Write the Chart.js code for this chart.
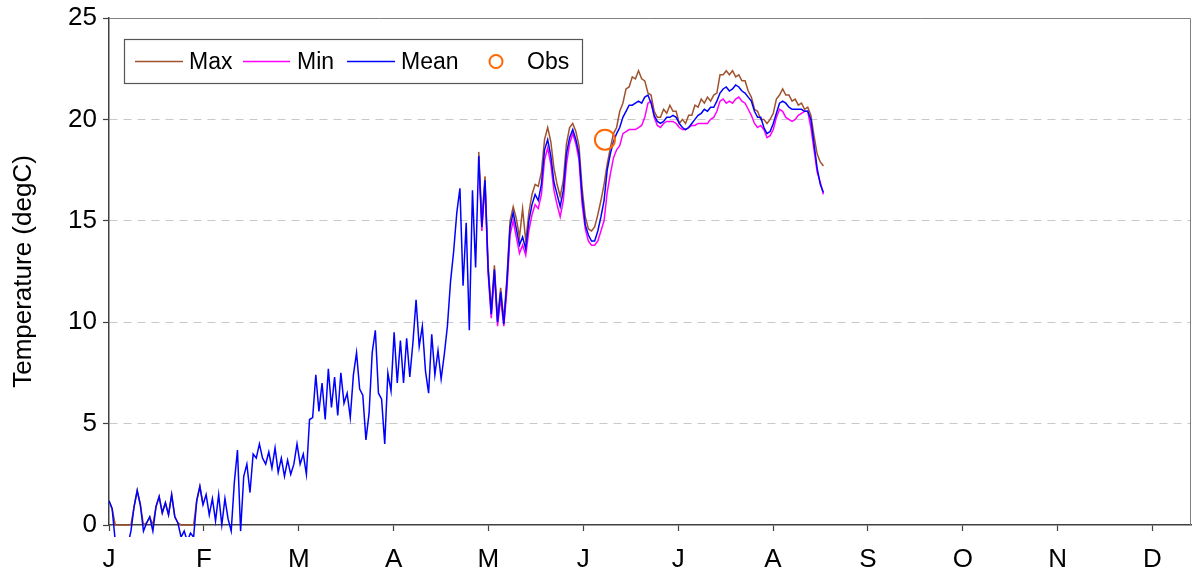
<!DOCTYPE html>
<html>
<head>
<meta charset="utf-8">
<script src="https://cdn.jsdelivr.net/npm/chart.js@4/dist/chart.umd.min.js"></script>
<style>
  html, body { margin: 0; padding: 0; background: #fff; }
  #wrap { width: 1196px; height: 584px; }
</style>
</head>
<body>
<div id="wrap"><canvas id="grafico" width="1196" height="584"></canvas></div>
<script>
// x axis: day of year, tick every 32 days, labelled with the month letter
const tickDays = [0, 32, 64, 96, 128, 160, 192, 224, 256, 288, 320, 352];
const tickLabels = ['J', 'F', 'M', 'A', 'M', 'J', 'J', 'A', 'S', 'O', 'N', 'D'];

// readings are evenly spaced, one every ~1.057 days, starting on day 0
const readStep = 1.057;

// Mean temperature (degC)
const meanVals = [
  1.2, 0.8, -0.8, -1.0, -1.0, -1.0, -1.0, -0.3, 0.9, 1.7,
  1.0, -0.3, 0.1, 0.4, -0.3, 0.9, 1.4, 0.6, 1.1, 0.5,
  1.5, 0.4, 0.1, -0.6, -0.3, -0.8, -0.4, -0.6, 1.2, 1.9,
  1.0, 1.5, 0.5, 1.3, 0.2, 1.5, 0.0, 1.3, 0.3, -0.3,
  2.1, 3.7, -0.3, 2.4, 3.0, 1.6, 3.5, 3.3, 4.0, 3.3,
  3.0, 3.6, 2.8, 3.8, 2.6, 3.3, 2.4, 3.2, 2.5, 3.0,
  4.0, 3.0, 3.5, 2.5, 5.2, 5.3, 7.4, 5.6, 7.0, 5.2,
  7.7, 5.8, 7.3, 5.4, 7.5, 6.0, 6.5, 5.3, 7.4, 8.5,
  6.7, 6.4, 4.2, 5.5, 8.5, 9.6, 6.5, 6.2, 4.0, 7.5,
  6.6, 9.5, 7.0, 9.1, 7.0, 9.2, 7.3, 9.0, 11.1, 8.8,
  9.8, 7.6, 6.5, 9.4, 7.4, 8.6, 7.2, 8.4, 9.8, 12.0,
  13.5, 15.4, 16.6, 11.8, 14.9, 9.6, 16.5, 12.7, 18.2, 14.7,
  17.0, 12.6, 10.4, 12.6, 10.0, 11.5, 9.9, 12.0, 14.7, 15.4,
  14.6, 13.8, 14.2, 13.6, 15.0, 15.8, 16.3, 16.0, 16.8, 18.5,
  19.0, 18.2, 16.9, 16.3, 15.7, 16.5, 18.3, 19.1, 19.5, 19.0,
  18.3, 16.2, 14.8, 14.3, 14.0, 14.0, 14.5, 15.2, 16.0, 17.5,
  18.3, 18.9, 19.3, 19.6, 20.1, 20.4, 20.7, 20.7, 20.8, 20.9,
  20.8, 21.1, 21.2, 20.8, 20.2, 19.9, 19.8, 19.9, 20.1, 20.1,
  20.2, 20.1, 19.8, 19.6, 19.5, 19.6, 19.8, 20.0, 20.2, 20.3,
  20.5, 20.4, 20.6, 20.6, 20.9, 21.3, 21.5, 21.6, 21.4, 21.5,
  21.7, 21.6, 21.4, 21.3, 21.1, 20.9, 20.4, 20.1, 20.1, 19.6,
  19.3, 19.4, 19.8, 20.3, 20.8, 20.9, 20.8, 20.6, 20.5, 20.5,
  20.5, 20.5, 20.4, 20.4, 20.0, 18.8, 17.6, 16.8, 16.4
];

// Max: January part (readings 0..30) and summer part (from reading 118)
const maxJan = [
  1.2, 0.8, 0, 0, 0, 0, 0, 0, 0.9, 1.7,
  1.0, 0, 0.1, 0.4, 0, 0.9, 1.4, 0.6, 1.1, 0.5,
  1.5, 0.4, 0.1, 0, 0, 0, 0, 0, 1.2, 1.9, 1.0
];
const summerStart = 118;
const maxSummer = [
  18.4, 15.0, 17.2, 12.8, 10.6, 12.8, 10.2, 11.7, 10.1, 12.2,
  15.0, 15.7, 15.1, 14.2, 15.6, 14.0, 15.4, 16.3, 16.8, 16.7,
  17.4, 19.0, 19.6, 18.9, 17.6, 16.8, 16.2, 17.0, 18.8, 19.6,
  19.8, 19.4, 18.7, 16.6, 15.2, 14.6, 14.5, 14.7, 15.3, 16.0,
  16.8, 17.8, 18.6, 19.3, 19.6, 20.4, 20.8, 21.5, 21.6, 22.1,
  22.0, 22.4, 22.0, 21.9, 21.3, 21.2, 20.4, 20.1, 20.1, 20.5,
  20.3, 20.7, 20.4, 20.4, 19.8, 20.0, 19.8, 20.2, 20.2, 20.7,
  20.6, 21.0, 20.8, 21.1, 20.9, 21.2, 21.3, 22.2, 22.2, 22.4,
  22.2, 22.4, 22.1, 22.2, 21.9, 21.9, 21.4, 21.1, 20.5, 20.4,
  20.0, 20.0, 19.8, 20.0, 20.3, 21.0, 21.2, 21.5, 21.2, 21.2,
  20.9, 21.0, 20.7, 20.8, 20.5, 20.6, 20.2, 19.2, 18.3, 17.9, 17.7
];
// Min: summer part (from reading 118), earlier it lies under Mean
const minSummer = [
  18.0, 14.5, 16.8, 12.4, 10.2, 12.4, 9.8, 11.2, 9.8, 11.6,
  14.3, 15.0, 14.2, 13.4, 13.8, 13.3, 14.5, 15.3, 15.8, 15.6,
  16.3, 18.0, 18.6, 17.8, 16.5, 15.8, 15.2, 16.0, 17.8, 18.8,
  19.3, 18.8, 18.0, 15.8, 14.6, 14.0, 13.8, 13.8, 14.0, 14.5,
  15.0, 16.4, 17.3, 18.1, 18.5, 18.7, 19.3, 19.4, 19.5, 19.5,
  19.5, 19.6, 19.7, 20.1, 20.8, 20.9, 20.1, 19.7, 19.6, 19.8,
  19.9, 19.9, 19.9, 19.8, 19.6, 19.5, 19.5, 19.6, 19.7, 19.7,
  19.8, 19.8, 19.8, 19.8, 20.0, 20.1, 20.4, 20.9, 21.0, 20.8,
  20.9, 20.8, 21.0, 21.1, 20.9, 20.8, 20.5, 20.2, 19.8, 19.6,
  19.7, 19.5, 19.1, 19.2, 19.5, 20.1, 20.5, 20.4, 20.1, 20.0,
  19.9, 20.0, 20.2, 20.3, 20.4, 20.4, 19.6, 18.5, 17.4, 16.9, 16.3
];

// Observation
const obsDay = [167.3];
const obsVal = [19.0];

const yTicks = [0, 5, 10, 15, 20, 25];

// armar puntos {x,y}
function puntos(vals, inicio) {
  return vals.map((v, i) => ({ x: (inicio + i) * readStep, y: v }));
}
const maxData = puntos(maxJan, 0).concat([{ x: 31 * readStep, y: null }], puntos(maxSummer, summerStart));
const minData = puntos(minSummer, summerStart);
const meanData = puntos(meanVals, 0);
const obsData = obsDay.map((d, i) => ({ x: d, y: obsVal[i] }));

const FUENTE = "'Liberation Sans', Arial, sans-serif";
const colores = { max: '#a0522d', min: '#ff00ff', mean: '#0000ff', obs: '#ff6600' };

// leyenda dibujada dentro del area del grafico
const leyendaPlugin = {
  id: 'leyenda',
  afterDraw(chart) {
    const ctx = chart.ctx;
    const a = chart.chartArea;
    // marco superior y derecho
    ctx.save();
    ctx.strokeStyle = '#808080';
    ctx.lineWidth = 1;
    ctx.beginPath();
    ctx.moveTo(a.left, a.top + 0.5);
    ctx.lineTo(a.right - 0.5, a.top + 0.5);
    ctx.lineTo(a.right - 0.5, a.bottom);
    ctx.stroke();

    const bx = a.left + 15.5, by = a.top + 21.5, bw = 458, bh = 44;
    ctx.fillStyle = '#fff';
    ctx.fillRect(bx, by, bw, bh);
    ctx.strokeStyle = '#555';
    ctx.lineWidth = 1.2;
    ctx.strokeRect(bx, by, bw, bh);

    const cy = by + bh / 2;
    ctx.font = '23px ' + FUENTE;
    ctx.fillStyle = '#000';
    ctx.textBaseline = 'middle';
    const items = [
      { t: 'Max', c: colores.max, x0: 135, x1: 183, tx: 189 },
      { t: 'Min', c: colores.min, x0: 243, x1: 290, tx: 297 },
      { t: 'Mean', c: colores.mean, x0: 347, x1: 395, tx: 401 }
    ];
    ctx.lineWidth = 1.5;
    for (const it of items) {
      ctx.strokeStyle = it.c;
      ctx.beginPath();
      ctx.moveTo(it.x0, cy);
      ctx.lineTo(it.x1, cy);
      ctx.stroke();
      ctx.fillText(it.t, it.tx, cy + 1);
    }
    ctx.strokeStyle = colores.obs;
    ctx.lineWidth = 2;
    ctx.beginPath();
    ctx.arc(496, cy, 6.5, 0, Math.PI * 2);
    ctx.stroke();
    ctx.fillText('Obs', 527, cy + 1);
    ctx.restore();
  }
};

const lineaBase = {
  showLine: true,
  pointRadius: 0,
  borderWidth: 1.5,
  tension: 0,
  spanGaps: false,
  clip: { left: 0, top: 0, right: 0, bottom: 12 }
};

new Chart(document.getElementById('grafico').getContext('2d'), {
  type: 'scatter',
  data: {
    datasets: [
      Object.assign({ label: 'Max', data: maxData, borderColor: colores.max, order: 3 }, lineaBase),
      Object.assign({ label: 'Min', data: minData, borderColor: colores.min, order: 2 }, lineaBase),
      Object.assign({ label: 'Mean', data: meanData, borderColor: colores.mean, order: 1 }, lineaBase),
      {
        label: 'Obs', data: obsData, showLine: false, order: 0,
        pointStyle: 'circle', pointRadius: 10, pointBorderWidth: 2,
        borderColor: colores.obs, backgroundColor: 'rgba(0,0,0,0)'
      }
    ]
  },
  options: {
    responsive: false,
    animation: false,
    layout: { autoPadding: false, padding: { top: 18, right: 5, left: 0, bottom: 0 } },
    plugins: {
      legend: { display: false },
      tooltip: { enabled: false }
    },
    scales: {
      x: {
        type: 'linear',
        min: 0,
        max: 365,
        afterBuildTicks: s => { s.ticks = tickDays.map(v => ({ value: v })); },
        afterFit: s => { s.height = 59; s.paddingLeft = 0; s.paddingRight = 0; },
        grid: { drawOnChartArea: false, drawTicks: true, tickLength: 6, tickColor: '#404040', tickWidth: 1.2 },
        border: { color: '#404040', width: 1.5 },
        ticks: {
          autoSkip: false, maxRotation: 0, padding: 13,
          color: '#000', font: { family: FUENTE, size: 26 },
          callback: (v, i) => tickLabels[i]
        }
      },
      y: {
        min: 0,
        max: 25,
        afterBuildTicks: s => { s.ticks = yTicks.map(v => ({ value: v })); },
        afterFit: s => { s.width = 109; s.paddingTop = 0; s.paddingBottom = 0; },
        grid: {
          color: c => (c.tick && (c.tick.value === 0 || c.tick.value === 25)) ? 'rgba(0,0,0,0)' : '#c8c8c8',
          lineWidth: 1,
          tickLength: 6, tickColor: '#404040', tickWidth: 1.2
        },
        border: { color: '#404040', width: 1.5, dash: [8, 6] },
        ticks: { padding: 6, color: '#000', font: { family: FUENTE, size: 26 } },
        title: {
          display: true, text: 'Temperature (degC)', color: '#000',
          font: { family: FUENTE, size: 26 }, padding: { top: 8, bottom: 0 }
        }
      }
    }
  },
  plugins: [leyendaPlugin]
});
</script>
</body>
</html>
